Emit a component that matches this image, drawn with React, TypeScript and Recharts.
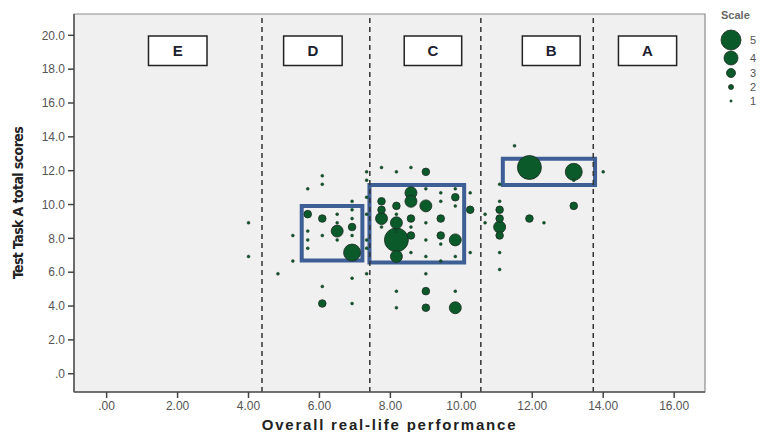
import { ScatterChart, Scatter, XAxis, YAxis, ReferenceLine, ReferenceArea, CartesianGrid } from 'recharts';

const xTicks = [0, 2, 4, 6, 8, 10, 12, 14, 16];
const yTicks = [0, 2, 4, 6, 8, 10, 12, 14, 16, 18, 20];

// dashed category borders on the x axis
const bandLines = [4.38, 7.42, 10.55, 13.72];

const bandLabels = [
  { name: 'E', x1: 1.18, x2: 2.83 },
  { name: 'D', x1: 4.99, x2: 6.64 },
  { name: 'C', x1: 8.39, x2: 10.01 },
  { name: 'B', x1: 11.72, x2: 13.35 },
  { name: 'A', x1: 14.43, x2: 16.07 },
];

const highlightBoxes = [
  { x1: 5.5, x2: 7.21, y1: 6.69, y2: 9.92 },
  { x1: 7.41, x2: 10.08, y1: 6.57, y2: 11.16 },
  { x1: 11.17, x2: 13.77, y1: 11.16, y2: 12.7 },
];

const scale1 = [
  { x: 6.08, y: 11.7 }, { x: 7.33, y: 11.93 }, { x: 6.08, y: 11.2 }, { x: 7.33, y: 11.44 },
  { x: 5.67, y: 10.93 }, { x: 7.33, y: 10.43 }, { x: 6.92, y: 10.19 }, { x: 6.5, y: 9.43 },
  { x: 6.92, y: 9.69 }, { x: 6.92, y: 9.17 }, { x: 7.33, y: 9.43 }, { x: 4.0, y: 8.92 },
  { x: 6.5, y: 8.92 }, { x: 5.25, y: 8.17 }, { x: 5.67, y: 8.43 }, { x: 6.08, y: 8.17 },
  { x: 6.92, y: 8.17 }, { x: 5.67, y: 7.91 }, { x: 6.5, y: 7.91 }, { x: 7.33, y: 7.91 },
  { x: 5.67, y: 7.42 }, { x: 7.33, y: 7.42 }, { x: 4.0, y: 6.93 }, { x: 5.25, y: 6.66 },
  { x: 4.83, y: 5.91 }, { x: 7.33, y: 5.91 }, { x: 6.92, y: 5.65 }, { x: 6.08, y: 5.16 },
  { x: 6.92, y: 4.15 }, { x: 8.17, y: 4.88 }, { x: 8.17, y: 3.9 },
  { x: 7.75, y: 12.19 }, { x: 8.17, y: 11.93 }, { x: 8.58, y: 12.19 }, { x: 9.0, y: 10.93 },
  { x: 9.42, y: 10.69 }, { x: 9.83, y: 10.93 }, { x: 9.42, y: 10.19 }, { x: 9.83, y: 9.92 },
  { x: 8.17, y: 9.43 }, { x: 9.0, y: 8.92 }, { x: 7.75, y: 8.67 }, { x: 8.17, y: 8.43 },
  { x: 8.58, y: 8.67 }, { x: 9.0, y: 7.91 }, { x: 9.42, y: 7.66 }, { x: 8.58, y: 7.16 },
  { x: 9.0, y: 6.93 }, { x: 9.42, y: 6.66 }, { x: 9.83, y: 6.93 }, { x: 10.25, y: 10.69 },
  { x: 10.25, y: 7.16 }, { x: 9.0, y: 5.91 }, { x: 9.83, y: 4.88 }, { x: 10.67, y: 9.43 },
  { x: 10.67, y: 8.92 }, { x: 11.08, y: 11.2 }, { x: 11.08, y: 10.19 }, { x: 11.08, y: 7.16 },
  { x: 11.08, y: 6.16 }, { x: 11.5, y: 13.47 }, { x: 13.17, y: 11.44 }, { x: 14.0, y: 11.93 },
  { x: 12.33, y: 8.92 },
];

const scale2 = [
  { x: 5.67, y: 9.43 }, { x: 6.08, y: 9.17 }, { x: 6.92, y: 8.67 }, { x: 6.08, y: 4.15 },
  { x: 9.0, y: 11.93 }, { x: 7.75, y: 10.19 }, { x: 8.17, y: 9.92 }, { x: 9.83, y: 10.43 },
  { x: 7.75, y: 9.69 }, { x: 8.58, y: 9.17 }, { x: 9.42, y: 9.17 }, { x: 8.58, y: 8.17 },
  { x: 9.42, y: 8.17 }, { x: 10.25, y: 9.69 }, { x: 9.0, y: 4.88 }, { x: 9.0, y: 3.9 },
  { x: 11.08, y: 9.69 }, { x: 11.08, y: 9.17 }, { x: 11.08, y: 8.17 }, { x: 11.92, y: 9.17 },
  { x: 13.17, y: 9.92 },
];

const scale3 = [
  { x: 6.5, y: 8.43 }, { x: 8.58, y: 10.69 }, { x: 8.58, y: 10.19 }, { x: 9.0, y: 9.92 },
  { x: 7.75, y: 9.17 }, { x: 8.17, y: 8.92 }, { x: 9.83, y: 7.91 }, { x: 8.17, y: 6.93 },
  { x: 9.83, y: 3.9 }, { x: 11.08, y: 8.67 },
];

const scale4 = [{ x: 6.92, y: 7.16 }, { x: 13.17, y: 11.93 }];

const scale5 = [{ x: 8.17, y: 7.91 }, { x: 11.92, y: 12.19 }];

const legendItems = [
  { label: '5', cy: 40, r: 10 },
  { label: '4', cy: 58, r: 7 },
  { label: '3', cy: 73, r: 4.5 },
  { label: '2', cy: 87, r: 2.5 },
  { label: '1', cy: 101, r: 1.2 },
];

const GREEN = '#0b5a2a';
const FONT = "'Liberation Sans', Arial, sans-serif";

const dot = (r: number) => (props: any) => (
  <circle
    cx={props.cx}
    cy={props.cy}
    r={r}
    fill={GREEN}
    stroke="#1c2b22"
    strokeWidth={r < 2 ? 0.4 : 0.8}
  />
);

const fmtX = (v: number) => (v === 0 ? '.00' : v.toFixed(2));
const fmtY = (v: number) => (v === 0 ? '.0' : v.toFixed(1));

export default function App() {
  return (
    <div style={{ position: 'absolute', left: 0, top: 0, width: 763, height: 432, background: '#fff' }}>
      <ScatterChart width={763} height={432} margin={{ top: 14, right: 58, bottom: 0, left: 14 }}>
        <CartesianGrid fill="#f0f0f0" horizontal={false} vertical={false} />
        <XAxis
          type="number"
          dataKey="x"
          domain={[-0.92, 16.87]}
          ticks={xTicks}
          tickFormatter={fmtX}
          allowDataOverflow
          height={40}
          tickSize={6}
          tickMargin={3}
          axisLine={{ stroke: '#555', strokeWidth: 1.5 }}
          tickLine={{ stroke: '#444', strokeWidth: 1.5 }}
          tick={{ fill: '#555', fontSize: 12, fontFamily: FONT }}
          label={{
            value: 'Overall real-life performance',
            position: 'insideBottom',
            offset: 2,
            style: { fill: '#222', fontSize: 15, fontWeight: 'bold', fontFamily: FONT, letterSpacing: 1.8 },
          }}
        />
        <YAxis
          type="number"
          dataKey="y"
          domain={[-1.08, 21.26]}
          ticks={yTicks}
          tickFormatter={fmtY}
          allowDataOverflow
          width={60}
          tickSize={6}
          tickMargin={3}
          axisLine={{ stroke: '#555', strokeWidth: 1.5 }}
          tickLine={{ stroke: '#444', strokeWidth: 1.5 }}
          tick={{ fill: '#555', fontSize: 12, fontFamily: FONT }}
          label={{
            value: 'Test Task A total scores',
            angle: -90,
            position: 'insideLeft',
            offset: 4,
            style: {
              textAnchor: 'middle',
              fill: '#222',
              fontSize: 14,
              fontWeight: 'bold',
              letterSpacing: -0.6,
              fontFamily: "'Liberation Sans Narrow', 'DejaVu Sans Condensed', Arial, sans-serif",
            },
          }}
        />
        <ReferenceArea x1={-0.92} x2={16.87} y1={-1.08} y2={21.26} fill="none" stroke="#8c8c8c" strokeWidth={1.2} ifOverflow="visible" />
        {bandLines.map((x) => (
          <ReferenceLine key={x} x={x} stroke="#333" strokeWidth={1.5} strokeDasharray="5 4" />
        ))}
        {bandLabels.map((b) => (
          <ReferenceArea
            key={b.name}
            x1={b.x1}
            x2={b.x2}
            y1={18.21}
            y2={19.96}
            fill="#fff"
            fillOpacity={1}
            stroke="#222"
            strokeWidth={1.5}
            label={{ value: b.name, position: 'center', style: { fill: '#1b2030', fontSize: 15, fontWeight: 'bold', fontFamily: FONT } }}
          />
        ))}
        {highlightBoxes.map((b, i) => (
          <ReferenceArea key={i} x1={b.x1} x2={b.x2} y1={b.y1} y2={b.y2} fill="none" stroke="#3d5f95" strokeWidth={4} />
        ))}
        <Scatter data={scale5} shape={dot(12)} isAnimationActive={false} />
        <Scatter data={scale4} shape={dot(8.5)} isAnimationActive={false} />
        <Scatter data={scale3} shape={dot(6)} isAnimationActive={false} />
        <Scatter data={scale2} shape={dot(3.8)} isAnimationActive={false} />
        <Scatter data={scale1} shape={dot(1.5)} isAnimationActive={false} />
      </ScatterChart>
      <svg
        width={63}
        height={112}
        style={{ position: 'absolute', left: 700, top: 0, fontFamily: FONT }}
      >
        <text x={21} y={19} fontSize={11} fontWeight="bold" fill="#666">
          Scale
        </text>
        {legendItems.map((it) => (
          <g key={it.label}>
            <circle cx={31} cy={it.cy} r={it.r} fill={GREEN} stroke="#1c2b22" strokeWidth={it.r < 2 ? 0.4 : 0.8} />
            <text x={50} y={it.cy + 4} fontSize={11} fill="#555">
              {it.label}
            </text>
          </g>
        ))}
      </svg>
    </div>
  );
}
